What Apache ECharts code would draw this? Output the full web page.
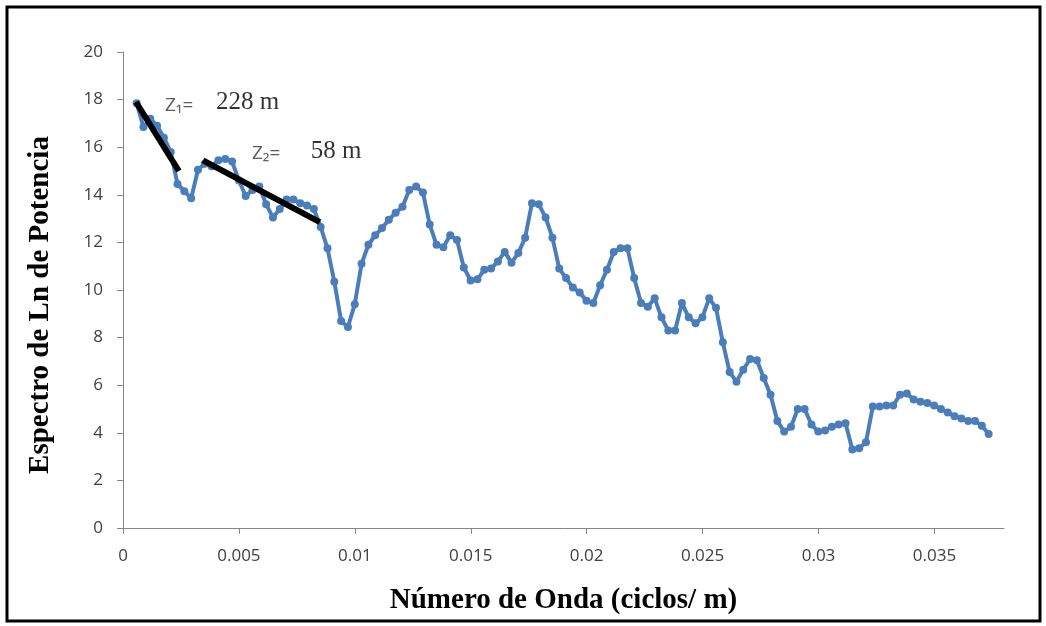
<!DOCTYPE html>
<html>
<head>
<meta charset="utf-8">
<script src="https://cdn.jsdelivr.net/npm/echarts@6/dist/echarts.min.js"></script>
<style>
html, body { margin: 0; padding: 0; background: #fff; }
#chart { width: 1046px; height: 626px; }
</style>
</head>
<body>
<div id="chart"></div>
<script>
// numero de onda (ciclos/m)
var waveNumber = [
  0.000588, 0.000882, 0.001176, 0.00147, 0.001764, 0.002058, 0.002352, 0.002646, 0.00294, 0.003234,
  0.003528, 0.003822, 0.004116, 0.00441, 0.004704, 0.004998, 0.005292, 0.005586, 0.00588, 0.006174,
  0.006468, 0.006762, 0.007056, 0.00735, 0.007644, 0.007938, 0.008232, 0.008526, 0.00882, 0.009114,
  0.009408, 0.009702, 0.009996, 0.01029, 0.010584, 0.010878, 0.011172, 0.011466, 0.01176, 0.012054,
  0.012348, 0.012642, 0.012936, 0.01323, 0.013524, 0.013818, 0.014112, 0.014406, 0.0147, 0.014994,
  0.015288, 0.015582, 0.015876, 0.01617, 0.016464, 0.016758, 0.017052, 0.017346, 0.01764, 0.017934,
  0.018228, 0.018522, 0.018816, 0.01911, 0.019404, 0.019698, 0.019992, 0.020286, 0.02058, 0.020874,
  0.021168, 0.021462, 0.021756, 0.02205, 0.022344, 0.022638, 0.022932, 0.023226, 0.02352, 0.023814,
  0.024108, 0.024402, 0.024696, 0.02499, 0.025284, 0.025578, 0.025872, 0.026166, 0.02646, 0.026754,
  0.027048, 0.027342, 0.027636, 0.02793, 0.028224, 0.028518, 0.028812, 0.029106, 0.0294, 0.029694,
  0.029988, 0.030282, 0.030576, 0.03087, 0.031164, 0.031458, 0.031752, 0.032046, 0.03234, 0.032634,
  0.032928, 0.033222, 0.033516, 0.03381, 0.034104, 0.034398, 0.034692, 0.034986, 0.03528, 0.035574,
  0.035868, 0.036162, 0.036456, 0.03675, 0.037044, 0.037338
];
// ln del espectro de potencia
var lnSpectrum = [
  17.85, 16.85, 17.2, 16.9, 16.4, 15.8, 14.45, 14.15, 13.85, 15.05,
  15.3, 15.2, 15.45, 15.5, 15.4, 14.6, 13.95, 14.2, 14.35, 13.6,
  13.05, 13.4, 13.8, 13.8, 13.65, 13.55, 13.4, 12.65, 11.75, 10.35,
  8.7, 8.45, 9.4, 11.1, 11.9, 12.3, 12.6, 12.95, 13.25, 13.5,
  14.2, 14.35, 14.1, 12.75, 11.9, 11.8, 12.3, 12.1, 10.95, 10.4,
  10.45, 10.85, 10.9, 11.2, 11.6, 11.15, 11.55, 12.2, 13.65, 13.6,
  13.05, 12.2, 10.9, 10.5, 10.1, 9.9, 9.55, 9.45, 10.2, 10.85,
  11.6, 11.75, 11.75, 10.5, 9.45, 9.3, 9.65, 8.85, 8.3, 8.3,
  9.45, 8.85, 8.6, 8.85, 9.65, 9.25, 7.8, 6.55, 6.15, 6.65,
  7.1, 7.05, 6.3, 5.6, 4.5, 4.05, 4.25, 5.0, 5.0, 4.35,
  4.05, 4.1, 4.25, 4.35, 4.4, 3.3, 3.35, 3.6, 5.1, 5.1,
  5.15, 5.15, 5.6, 5.65, 5.4, 5.3, 5.25, 5.15, 5.0, 4.85,
  4.7, 4.6, 4.5, 4.5, 4.3, 3.95
];
// rectas de ajuste (profundidades)
var z1Line = [[0.00056, 17.9], [0.00241, 15.0]];
var z2Line = [[0.00345, 15.45], [0.00849, 12.85]];
// textos
var zLabels = [[0.00181, 17.75, 'Z\u2081='], [0.00556, 15.74, 'Z\u2082=']];
var depthLabels = [[0.00401, 17.88, '228 m'], [0.0081, 15.82, '58 m']];
var xTicks = [0, 0.005, 0.01, 0.015, 0.02, 0.025, 0.03, 0.035];

var points = [];
for (var i = 0; i < waveNumber.length; i++) {
    points.push([waveNumber[i], lnSpectrum[i]]);
}

var myChart = echarts.init(document.getElementById('chart'));
var option = {
    animation: false,
    backgroundColor: '#fff',
    graphic: [{
        type: 'rect',
        shape: { x: 7, y: 7, width: 1033, height: 614 },
        style: { fill: 'none', stroke: '#000', lineWidth: 3 }
    }],
    grid: { left: 123, right: 42, top: 52, bottom: 98 },
    xAxis: {
        type: 'value',
        min: 0,
        max: 0.038,
        interval: 0.005,
        name: 'Número de Onda (ciclos/ m)',
        nameLocation: 'middle',
        nameGap: 58,
        nameTextStyle: { fontFamily: 'Liberation Serif', fontWeight: 'bold', fontSize: 29, color: '#000' },
        splitLine: { show: false },
        axisLine: { lineStyle: { color: '#868686', width: 1 } },
        axisTick: { show: true, length: 6, lineStyle: { color: '#868686' } },
        axisLabel: {
            margin: 20,
            fontFamily: 'Open Sans',
            fontSize: 17,
            color: '#404040',
            showMaxLabel: false,
            formatter: function (v) {
                for (var k = 0; k < xTicks.length; k++) {
                    if (Math.abs(v - xTicks[k]) < 1e-9) return String(xTicks[k]);
                }
                return '';
            }
        }
    },
    yAxis: {
        type: 'value',
        min: 0,
        max: 20,
        interval: 2,
        name: 'Espectro de Ln de Potencia',
        nameLocation: 'middle',
        nameGap: 68,
        nameTextStyle: {
            fontFamily: 'Liberation Serif', fontWeight: 'bold', fontSize: 29, color: '#000',
            padding: [0, 30, 0, 0]
        },
        splitLine: { show: false },
        axisLine: { show: true, lineStyle: { color: '#868686', width: 1 } },
        axisTick: { show: true, length: 6, lineStyle: { color: '#868686' } },
        axisLabel: { margin: 20, fontFamily: 'Open Sans', fontSize: 17, color: '#404040' }
    },
    series: [
        {
            type: 'line',
            data: points,
            symbol: 'circle',
            symbolSize: 8,
            itemStyle: { color: '#4a7ebb' },
            lineStyle: { color: '#4a7ebb', width: 4 },
            z: 2
        },
        {
            type: 'line',
            data: z1Line,
            symbol: 'none',
            lineStyle: { color: '#000', width: 6 },
            z: 3
        },
        {
            type: 'line',
            data: z2Line,
            symbol: 'none',
            lineStyle: { color: '#000', width: 6 },
            z: 3
        },
        {
            type: 'scatter',
            data: zLabels,
            symbolSize: 0,
            label: {
                show: true,
                position: 'right',
                distance: 0,
                formatter: function (p) { return p.data[2]; },
                fontFamily: 'Open Sans',
                fontSize: 19,
                color: '#333'
            },
            z: 4
        },
        {
            type: 'scatter',
            data: depthLabels,
            symbolSize: 0,
            label: {
                show: true,
                position: 'right',
                distance: 0,
                formatter: function (p) { return p.data[2]; },
                fontFamily: 'Liberation Serif',
                fontSize: 25,
                color: '#000'
            },
            z: 4
        }
    ]
};
myChart.setOption(option);
</script>
</body>
</html>
